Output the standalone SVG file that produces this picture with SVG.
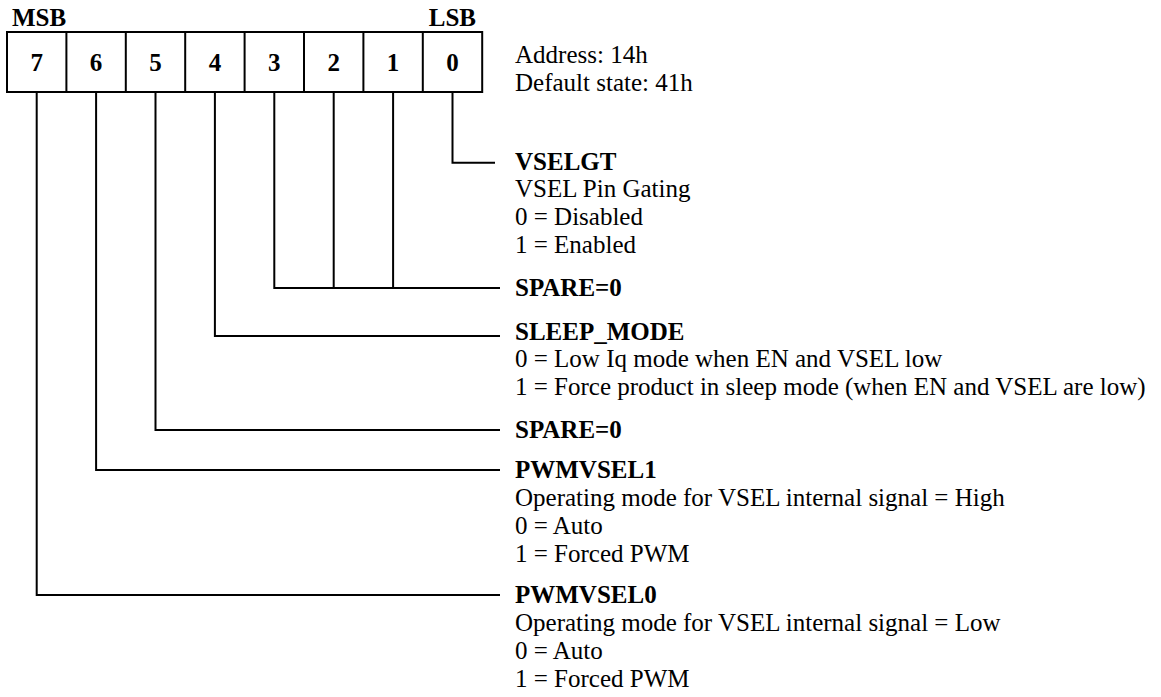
<svg xmlns="http://www.w3.org/2000/svg" width="1161" height="697" viewBox="0 0 1161 697">
<style>
text{font-family:"Liberation Serif","Times New Roman",serif;font-size:25px;fill:#000}
.b{font-weight:bold}
.c{text-anchor:middle}
.cell{fill:#fff;stroke:#000;stroke-width:2}
.w{fill:none;stroke:#000;stroke-width:2}
</style>
<rect width="1161" height="697" fill="#fff"/>
<g id="register">
<rect class="cell" x="7" y="32" width="475.2" height="60"/>
<path class="w" d="M66.4 32V92M125.8 32V92M185.2 32V92M244.6 32V92M304 32V92M363.4 32V92M422.8 32V92"/>
<text class="b c" x="36.7" y="71">7</text>
<text class="b c" x="96.1" y="71">6</text>
<text class="b c" x="155.5" y="71">5</text>
<text class="b c" x="214.9" y="71">4</text>
<text class="b c" x="274.3" y="71">3</text>
<text class="b c" x="333.7" y="71">2</text>
<text class="b c" x="393.1" y="71">1</text>
<text class="b c" x="452.5" y="71">0</text>
<text class="b" x="12" y="26">MSB</text>
<text class="b" x="476" y="26" text-anchor="end">LSB</text>
</g>
<g id="info">
<text x="515" y="63">Address: 14h</text>
<text x="515" y="91">Default state: 41h</text>
</g>
<g id="connectors">
<path class="w" d="M452.5 92V162.7H495"/>
<path class="w" d="M274.3 92V288H500M333.7 92V288M393.1 92V288"/>
<path class="w" d="M214.9 92V336H500"/>
<path class="w" d="M155.5 92V430H500"/>
<path class="w" d="M96.1 92V470H500"/>
<path class="w" d="M36.7 92V595H500"/>
</g>
<g id="bit0">
<text class="b" x="515" y="170">VSELGT</text>
<text x="515" y="197">VSEL Pin Gating</text>
<text x="515" y="225">0 = Disabled</text>
<text x="515" y="253">1 = Enabled</text>
</g>
<g id="bit3-1">
<text class="b" x="515" y="296">SPARE=0</text>
</g>
<g id="bit4">
<text class="b" x="515" y="340">SLEEP_MODE</text>
<text x="515" y="367">0 = Low Iq mode when EN and VSEL low</text>
<text x="515" y="395">1 = Force product in sleep mode (when EN and VSEL are low)</text>
</g>
<g id="bit5">
<text class="b" x="515" y="438">SPARE=0</text>
</g>
<g id="bit6">
<text class="b" x="515" y="478">PWMVSEL1</text>
<text x="515" y="506">Operating mode for VSEL internal signal = High</text>
<text x="515" y="534">0 = Auto</text>
<text x="515" y="562">1 = Forced PWM</text>
</g>
<g id="bit7">
<text class="b" x="515" y="603">PWMVSEL0</text>
<text x="515" y="631">Operating mode for VSEL internal signal = Low</text>
<text x="515" y="659">0 = Auto</text>
<text x="515" y="687">1 = Forced PWM</text>
</g>
</svg>
